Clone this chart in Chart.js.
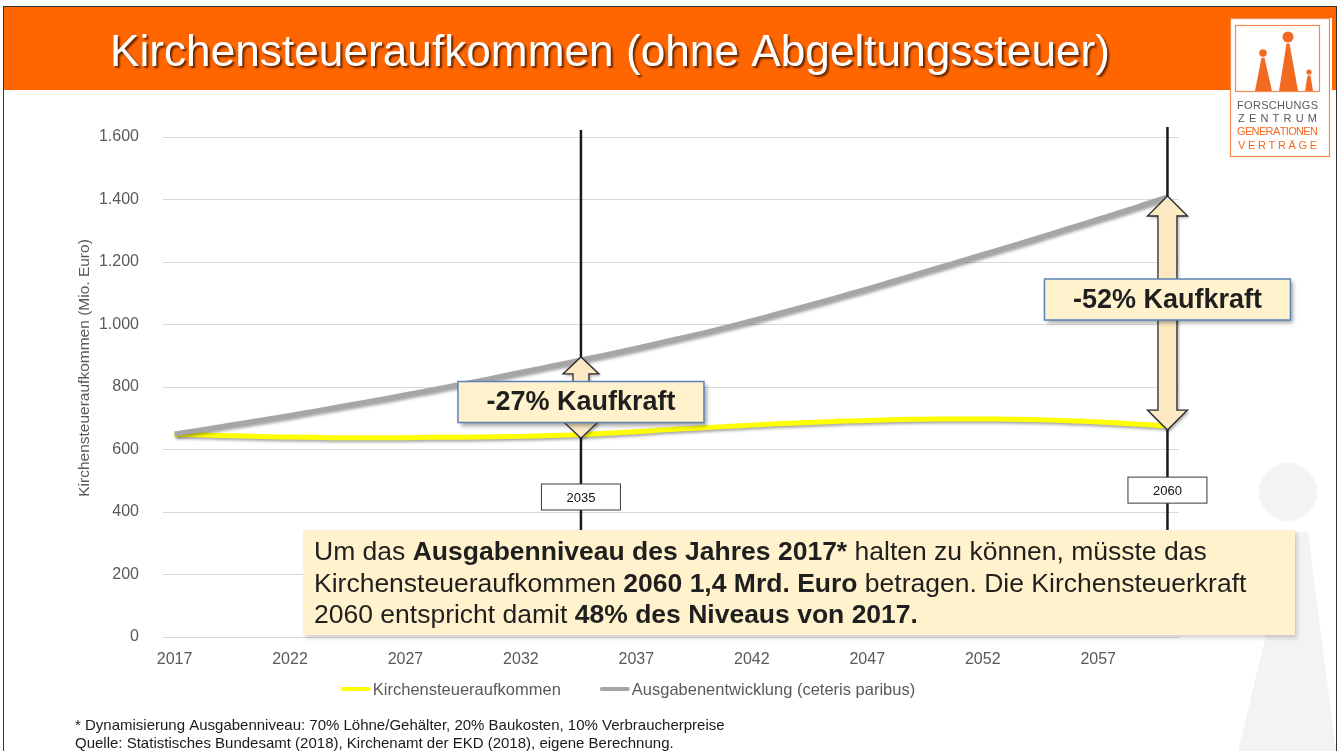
<!DOCTYPE html>
<html>
<head>
<meta charset="utf-8">
<script src="https://cdn.jsdelivr.net/npm/chart.js@4.4.0/dist/chart.umd.min.js"></script>
<style>
  html, body { margin: 0; padding: 0; background: #fff; overflow: hidden; }
  canvas { display: block; }
</style>
</head>
<body>
<canvas id="kist" width="1340" height="751"></canvas>
<script>
// Jahre (Kategorien)
const years = [2017, 2018, 2019, 2020, 2021, 2022, 2023, 2024, 2025, 2026, 2027,
  2028, 2029, 2030, 2031, 2032, 2033, 2034, 2035, 2036, 2037, 2038, 2039, 2040,
  2041, 2042, 2043, 2044, 2045, 2046, 2047, 2048, 2049, 2050, 2051, 2052, 2053,
  2054, 2055, 2056, 2057, 2058, 2059, 2060];

// Kirchensteueraufkommen (Mio. Euro) - gelbe Linie
const kirchensteuer = [648, 647, 645, 643, 641, 640, 639, 638, 638, 638, 638,
  639, 639, 640, 641, 642, 644, 646, 649, 653, 657, 662, 666, 670,
  674, 678, 682, 685, 688, 691, 693, 695, 697, 698, 698, 698, 697,
  696, 694, 691, 688, 684, 680, 675];

// Ausgabenentwicklung (ceteris paribus) - graue Linie
const ausgaben = [650, 661, 673, 685, 697, 709, 722, 735, 748, 761, 775,
  789, 803, 817, 832, 847, 862, 877, 893, 908, 924, 941, 958, 975,
  993, 1012, 1032, 1052, 1072, 1093, 1114, 1136, 1158, 1180, 1202, 1224, 1246,
  1268, 1291, 1314, 1337, 1360, 1384, 1408];

const xTickYears = [2017, 2022, 2027, 2032, 2037, 2042, 2047, 2052, 2057];
const yTicks = [0, 200, 400, 600, 800, 1000, 1200, 1400, 1600];

// Markierungen: Jahr, Lage der Linie, Kaufkraft-Text
const markYears = [2035, 2060];
const markPos = [2034.6, 2060];
const kaufkraftText = ['-27% Kaufkraft', '-52% Kaufkraft'];
const kaufkraftBoxValue = [752, 1080];
const yearBoxValue = [448, 470];

const FONT = "'Liberation Sans', Arial, Helvetica, sans-serif";
const CREAM = '#fff2cc';

function fmt(v) {
  return String(v).replace(/\B(?=(\d{3})+(?!\d))/g, '.');
}

function spacedText(ctx, text, x0, x1, y) {
  const chars = text.split('');
  const widths = chars.map(c => ctx.measureText(c).width);
  const total = widths.reduce((a, b) => a + b, 0);
  const gap = chars.length > 1 ? (x1 - x0 - total) / (chars.length - 1) : 0;
  let x = x0;
  ctx.textAlign = 'left';
  chars.forEach((c, i) => { ctx.fillText(c, x, y); x += widths[i] + gap; });
}

// Folienhintergrund, Kopfzeile, Logo
const slideBackground = {
  id: 'slideBackground',
  beforeDraw(chart) {
    const ctx = chart.ctx;
    ctx.save();
    ctx.fillStyle = '#fff';
    ctx.fillRect(0, 0, 1340, 751);

    // blasse Figur rechts unten
    ctx.fillStyle = '#f3f3f3';
    ctx.beginPath();
    ctx.arc(1288, 492, 29, 0, Math.PI * 2);
    ctx.fill();
    ctx.beginPath();
    ctx.moveTo(1291, 532);
    ctx.lineTo(1308, 532);
    ctx.lineTo(1336, 751);
    ctx.lineTo(1238, 751);
    ctx.closePath();
    ctx.fill();

    // Kopfzeile
    ctx.fillStyle = '#ff6600';
    ctx.fillRect(3, 7, 1334, 83);
    ctx.font = '45px ' + FONT;
    ctx.textBaseline = 'alphabetic';
    ctx.textAlign = 'left';
    const title = 'Kirchensteueraufkommen (ohne Abgeltungssteuer)';
    const w = ctx.measureText(title).width;
    ctx.save();
    ctx.translate(110, 66);
    ctx.scale(1000 / w, 1);
    ctx.shadowColor = 'rgba(70,25,0,0.85)';
    ctx.shadowBlur = 2;
    ctx.shadowOffsetX = 2;
    ctx.shadowOffsetY = 2;
    ctx.fillStyle = '#fff';
    ctx.fillText(title, 0, 0);
    ctx.restore();

    // Rahmen der Folie
    ctx.strokeStyle = '#333';
    ctx.lineWidth = 1;
    ctx.strokeRect(3.5, 6.5, 1333, 760);

    // Logo
    ctx.fillStyle = '#fff';
    ctx.fillRect(1230, 18, 102, 140);
    ctx.strokeStyle = '#f58a4b';
    ctx.lineWidth = 1.2;
    ctx.strokeRect(1230.5, 18.5, 99, 138);
    ctx.strokeRect(1235.5, 25.5, 84, 66);
    ctx.fillStyle = '#f26a21';
    const figs = [[1263, 53, 3.8, 1255, 1272], [1288, 37, 5.5, 1279, 1298], [1309, 72, 2.6, 1305, 1313]];
    figs.forEach(f => {
      ctx.beginPath();
      ctx.arc(f[0], f[1], f[2], 0, Math.PI * 2);
      ctx.fill();
      ctx.beginPath();
      ctx.moveTo(f[0] - 1.5, f[1] + f[2] + 1);
      ctx.lineTo(f[0] + 1.5, f[1] + f[2] + 1);
      ctx.lineTo(f[4], 91);
      ctx.lineTo(f[3], 91);
      ctx.closePath();
      ctx.fill();
    });
    ctx.font = '11px ' + FONT;
    ctx.textBaseline = 'middle';
    ctx.fillStyle = '#595959';
    spacedText(ctx, 'FORSCHUNGS', 1237, 1318, 106);
    spacedText(ctx, 'ZENTRUM', 1238, 1317, 119);
    ctx.fillStyle = '#f26a21';
    spacedText(ctx, 'GENERATIONEN', 1237, 1318, 132);
    spacedText(ctx, 'VERTRÄGE', 1238, 1317, 146);
    ctx.restore();
  }
};

// Schatten unter den Linien
const lineShadow = {
  id: 'lineShadow',
  beforeDatasetDraw(chart) {
    const ctx = chart.ctx;
    ctx.save();
    ctx.shadowColor = 'rgba(0,0,0,0.35)';
    ctx.shadowBlur = 3;
    ctx.shadowOffsetX = 1.5;
    ctx.shadowOffsetY = 2;
  },
  afterDatasetDraw(chart) {
    chart.ctx.restore();
  }
};

function xForYear(chart, yr) {
  const xs = chart.scales.x;
  const x0 = xs.getPixelForValue(0);
  const step = xs.getPixelForValue(1) - x0;
  return x0 + (yr - years[0]) * step;
}

function doubleArrow(ctx, x, yTop, yBot, head, headHalf, shaftHalf) {
  ctx.beginPath();
  ctx.moveTo(x, yTop);
  ctx.lineTo(x + headHalf, yTop + head);
  ctx.lineTo(x + shaftHalf, yTop + head);
  ctx.lineTo(x + shaftHalf, yBot - head);
  ctx.lineTo(x + headHalf, yBot - head);
  ctx.lineTo(x, yBot);
  ctx.lineTo(x - headHalf, yBot - head);
  ctx.lineTo(x - shaftHalf, yBot - head);
  ctx.lineTo(x - shaftHalf, yTop + head);
  ctx.lineTo(x - headHalf, yTop + head);
  ctx.closePath();
}

// Markierungen, Pfeile, Textkasten
const annotations = {
  id: 'annotations',
  afterDatasetsDraw(chart) {
    const ctx = chart.ctx;
    const ys = chart.scales.y;
    const boxTop = 530;
    ctx.save();

    markYears.forEach((yr, i) => {
      const x = xForYear(chart, markPos[i]);
      const idx = years.indexOf(yr);
      // senkrechte Linie
      ctx.strokeStyle = '#1a1a1a';
      ctx.lineWidth = 2.5;
      ctx.beginPath();
      ctx.moveTo(x, i === 0 ? 130 : 127);
      ctx.lineTo(x, boxTop);
      ctx.stroke();

      // Jahreskasten
      const yb = ys.getPixelForValue(yearBoxValue[i]);
      ctx.fillStyle = '#fff';
      ctx.fillRect(x - 39.5, yb - 13, 79, 26);
      ctx.strokeStyle = '#3a3a3a';
      ctx.lineWidth = 1;
      ctx.strokeRect(x - 39.5, yb - 13, 79, 26);
      ctx.fillStyle = '#111';
      ctx.font = '13px ' + FONT;
      ctx.textAlign = 'center';
      ctx.textBaseline = 'middle';
      ctx.fillText(String(yr), x, yb + 1);

      // Doppelpfeil zwischen den Linien
      const yTop = ys.getPixelForValue(ausgaben[idx]) - 1;
      const yBot = ys.getPixelForValue(kirchensteuer[idx]) + 4;
      const big = i === 1;
      doubleArrow(ctx, x, yTop, yBot, big ? 20 : 17, big ? 20 : 18, big ? 9.5 : 8);
      ctx.save();
      ctx.shadowColor = 'rgba(0,0,0,0.3)';
      ctx.shadowBlur = 3;
      ctx.shadowOffsetX = 2;
      ctx.shadowOffsetY = 2;
      ctx.fillStyle = '#fdeac4';
      ctx.fill();
      ctx.restore();
      ctx.strokeStyle = '#2a2a2a';
      ctx.lineWidth = 1.3;
      ctx.stroke();

      // Kaufkraft-Kasten
      const yk = ys.getPixelForValue(kaufkraftBoxValue[i]);
      ctx.save();
      ctx.shadowColor = 'rgba(0,0,0,0.35)';
      ctx.shadowBlur = 4;
      ctx.shadowOffsetX = 3;
      ctx.shadowOffsetY = 3;
      ctx.fillStyle = CREAM;
      ctx.fillRect(x - 123, yk - 20.5, 246, 41);
      ctx.restore();
      ctx.strokeStyle = '#5b82b8';
      ctx.lineWidth = 1.5;
      ctx.strokeRect(x - 123, yk - 20.5, 246, 41);
      ctx.fillStyle = '#1f1f1f';
      ctx.font = 'bold 27px ' + FONT;
      ctx.textAlign = 'center';
      ctx.textBaseline = 'middle';
      ctx.fillText(kaufkraftText[i], x, yk + 1);
    });

    // Erläuterungskasten
    ctx.save();
    ctx.shadowColor = 'rgba(0,0,0,0.18)';
    ctx.shadowBlur = 4;
    ctx.shadowOffsetX = 2;
    ctx.shadowOffsetY = 3;
    ctx.fillStyle = CREAM;
    ctx.fillRect(303, boxTop, 992, 105);
    ctx.restore();

    const lines = [
      [['Um das ', false], ['Ausgabenniveau des Jahres 2017*', true], [' halten zu können, müsste das', false]],
      [['Kirchensteueraufkommen ', false], ['2060 1,4 Mrd. Euro', true], [' betragen. Die Kirchensteuerkraft', false]],
      [['2060 entspricht damit ', false], ['48% des Niveaus von 2017.', true]]
    ];
    ctx.fillStyle = '#1f1f1f';
    ctx.textAlign = 'left';
    ctx.textBaseline = 'alphabetic';
    lines.forEach((parts, li) => {
      let x = 314;
      const y = 560 + li * 31.5;
      parts.forEach(p => {
        ctx.font = (p[1] ? 'bold ' : '') + '26.5px ' + FONT;
        ctx.fillText(p[0], x, y);
        x += ctx.measureText(p[0]).width;
      });
    });
    ctx.restore();
  },

  afterDraw(chart) {
    const ctx = chart.ctx;
    ctx.save();

    // Achsentitel
    ctx.save();
    ctx.translate(85, 368);
    ctx.rotate(-Math.PI / 2);
    ctx.fillStyle = '#595959';
    ctx.font = '15.5px ' + FONT;
    ctx.textAlign = 'center';
    ctx.textBaseline = 'middle';
    ctx.fillText('Kirchensteueraufkommen (Mio. Euro)', 0, 0);
    ctx.restore();

    // Legende
    ctx.font = '16.5px ' + FONT;
    ctx.textBaseline = 'middle';
    ctx.textAlign = 'left';
    const sets = chart.data.datasets;
    const sample = 30, gapText = 2, gapItem = 39;
    const widths = sets.map(d => sample + gapText + ctx.measureText(d.label).width);
    const total = widths.reduce((a, b) => a + b, 0) + gapItem * (sets.length - 1);
    let lx = 628 - total / 2;
    const ly = 689;
    sets.forEach((d, i) => {
      ctx.strokeStyle = d.borderColor;
      ctx.lineWidth = 4;
      ctx.lineCap = 'round';
      ctx.beginPath();
      ctx.moveTo(lx + 2, ly);
      ctx.lineTo(lx + sample - 2, ly);
      ctx.stroke();
      ctx.fillStyle = '#595959';
      ctx.fillText(d.label, lx + sample + gapText, ly + 1);
      lx += widths[i] + gapItem;
    });

    // Fußnoten
    ctx.fillStyle = '#1a1a1a';
    ctx.font = '15px ' + FONT;
    ctx.fillText('* Dynamisierung Ausgabenniveau: 70% Löhne/Gehälter, 20% Baukosten, 10% Verbraucherpreise', 75, 726);
    ctx.fillText('Quelle: Statistisches Bundesamt (2018), Kirchenamt der EKD (2018), eigene Berechnung.', 75, 744);
    ctx.restore();
  }
};

const ctx = document.getElementById('kist').getContext('2d');

const chart = new Chart(ctx, {
  type: 'line',
  data: {
    labels: years.map(String),
    datasets: [
      {
        label: 'Kirchensteueraufkommen',
        data: kirchensteuer,
        borderColor: '#ffff00',
        borderWidth: 5,
        pointRadius: 0,
        tension: 0.4,
        cubicInterpolationMode: 'monotone',
        fill: false,
        order: 1
      },
      {
        label: 'Ausgabenentwicklung (ceteris paribus)',
        data: ausgaben,
        borderColor: '#a6a6a6',
        borderWidth: 5,
        pointRadius: 0,
        tension: 0.4,
        cubicInterpolationMode: 'monotone',
        fill: false,
        order: 0
      }
    ]
  },
  options: {
    responsive: false,
    animation: false,
    devicePixelRatio: 1,
    layout: { padding: { top: 137, right: 161, left: 0, bottom: 0 } },
    plugins: {
      legend: { display: false },
      tooltip: { enabled: false }
    },
    scales: {
      x: {
        type: 'category',
        offset: true,
        grid: { display: false, drawTicks: false },
        border: { display: false },
        ticks: {
          autoSkip: false,
          maxRotation: 0,
          padding: 13,
          color: '#595959',
          font: { family: FONT, size: 16 },
          callback: (v, i) => xTickYears.includes(years[i]) ? String(years[i]) : ''
        },
        afterFit: s => { s.height = 114; }
      },
      y: {
        min: 0,
        max: 1600,
        afterBuildTicks: s => { s.ticks = yTicks.map(v => ({ value: v })); },
        grid: { color: '#d9d9d9', lineWidth: 1, drawTicks: false },
        border: { display: false },
        ticks: {
          padding: 24,
          color: '#595959',
          font: { family: FONT, size: 16 },
          callback: v => fmt(v)
        },
        afterFit: s => { s.width = 163; }
      }
    }
  },
  plugins: [slideBackground, lineShadow, annotations]
});
</script>
</body>
</html>
